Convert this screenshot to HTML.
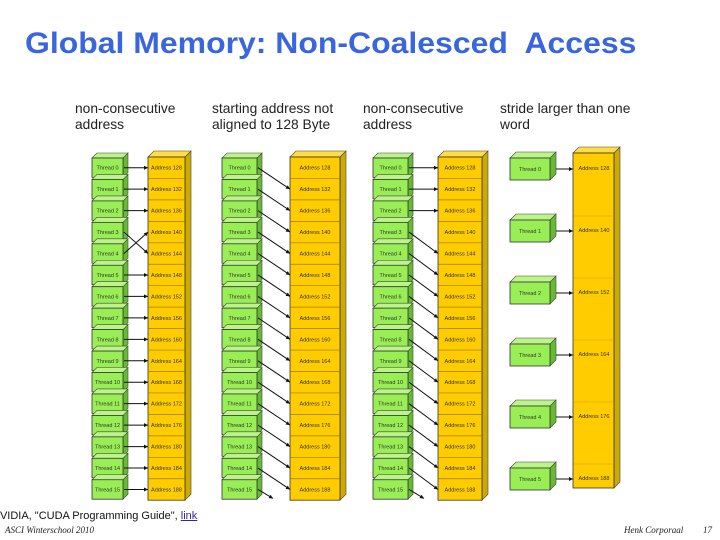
<!DOCTYPE html>
<html><head><meta charset="utf-8"><style>
body{margin:0;width:720px;height:540px;background:#fff;overflow:hidden;position:relative;font-family:"Liberation Sans",sans-serif}
.t{position:absolute;left:25px;top:27px;font-size:30px;font-weight:bold;color:#3a66dd;white-space:nowrap;transform:scaleX(1.065);transform-origin:0 0}
.s{position:absolute;top:101px;font-size:13.8px;line-height:16px;color:#222}
svg{position:absolute;left:0;top:0}
</style></head><body>
<div class="t">Global Memory: Non-Coalesced&nbsp; Access</div>
<div class="s" style="left:75px">non-consecutive<br>address</div>
<div class="s" style="left:212px">starting address not<br>aligned to 128 Byte</div>
<div class="s" style="left:363px">non-consecutive<br>address</div>
<div class="s" style="left:500px">stride larger than one<br>word</div>
<div style="position:absolute;left:-8px;top:510px;font-size:11px;color:#111">NVIDIA, "CUDA Programming Guide", <span style="color:#3322aa;text-decoration:underline">link</span></div>
<div style="position:absolute;left:5px;top:525px;font-size:9px;font-style:italic;font-family:'Liberation Serif',serif;color:#222">ASCI Winterschool 2010</div>
<div style="position:absolute;left:624px;top:525px;font-size:9px;font-style:italic;font-family:'Liberation Serif',serif;color:#222">Henk Corporaal</div>
<div style="position:absolute;left:703px;top:525px;font-size:9px;font-style:italic;font-family:'Liberation Serif',serif;color:#222">17</div>
<svg id="g" width="720" height="540" xmlns="http://www.w3.org/2000/svg"></svg>
<script>
var s='';var P=21.45,Y0=157;
function box(x,y,w,h,d,f,sd,tp,lab){
 s+='<polygon points="'+(x+w)+','+y+' '+(x+w+d)+','+(y-d)+' '+(x+w+d)+','+(y+h-d)+' '+(x+w)+','+(y+h)+'" fill="'+sd+'" stroke="#444" stroke-width="0.6"/>';
 s+='<polygon points="'+x+','+y+' '+(x+d)+','+(y-d)+' '+(x+w+d)+','+(y-d)+' '+(x+w)+','+y+'" fill="'+tp+'" stroke="#444" stroke-width="0.6"/>';
 s+='<rect x="'+x+'" y="'+y+'" width="'+w+'" height="'+h+'" fill="'+f+'" stroke="#333" stroke-width="0.8"/>';
 if(lab)s+='<text x="'+(x+w/2)+'" y="'+(y+h/2+2)+'" font-size="5.5" text-anchor="middle" fill="#333">'+lab+'</text>';
}
function arr(x1,y1,x2,y2,c){s+='<line x1="'+x1+'" y1="'+y1+'" x2="'+x2+'" y2="'+y2+'" stroke="'+(c||'#111')+'" stroke-width="1"/>';
 if(x2>x1+5){var a=Math.atan2(y2-y1,x2-x1);s+='<polygon points="'+x2+','+y2+' '+(x2-4*Math.cos(a)+2*Math.sin(a))+','+(y2-4*Math.sin(a)-2*Math.cos(a))+' '+(x2-4*Math.cos(a)-2*Math.sin(a))+','+(y2-4*Math.sin(a)+2*Math.cos(a))+'" fill="#111"/>';}}
function col(tx,tw,ax,aw,map){
 for(var i=0;i<16;i++){var y=Y0+i*P;box(tx,y+1,tw,P-2,5,'#99ee55','#66bb33','#bbf588','Thread '+i);}
 box(ax,Y0,aw,16*P,6,'#ffcc00','#ccaa00','#ffdd44','');
 for(var i=0;i<16;i++){var y=Y0+i*P;
  if(i>0)s+='<line x1="'+ax+'" y1="'+y+'" x2="'+(ax+aw)+'" y2="'+y+'" stroke="#9a7a00" stroke-width="0.7"/>';
  s+='<text x="'+(ax+aw/2)+'" y="'+(y+P/2+2)+'" font-size="5.5" text-anchor="middle" fill="#333">Address '+(128+4*i)+'</text>';}
 for(var i=0;i<16;i++){var j=map(i);var y1=Y0+i*P+P/2;var y2=Y0+j*P+P/2;
  if(j>15){arr(tx+tw+1,y1,tx+tw+16,y1+9);}else arr(tx+tw+1,y1,ax,y2);}
}
col(92,31,148,37,function(i){return i==3?4:i==4?3:i;});
col(222,35,290,50,function(i){return i+1;});
col(373,35,438,44,function(i){return i<3?i:i+1;});
box(573,153,41,335,6,'#ffcc00','#ccaa00','#ffdd44','');
for(var k=0;k<6;k++){var cy=168+k*62;
 if(k>0)s+='<line x1="573" y1="'+(cy-14)+'" x2="614" y2="'+(cy-14)+'" stroke="#caa000" stroke-width="0.6"/>';
 box(510,cy-10,40,22,6,'#99ee55','#66bb33','#bbf588','Thread '+k);
 s+='<text x="594" y="'+(cy+2)+'" font-size="5.5" text-anchor="middle" fill="#333">Address '+(128+12*k)+'</text>';
 arr(556,cy+1,573,cy+1);}
document.getElementById('g').innerHTML=s;
</script>
</body></html>
